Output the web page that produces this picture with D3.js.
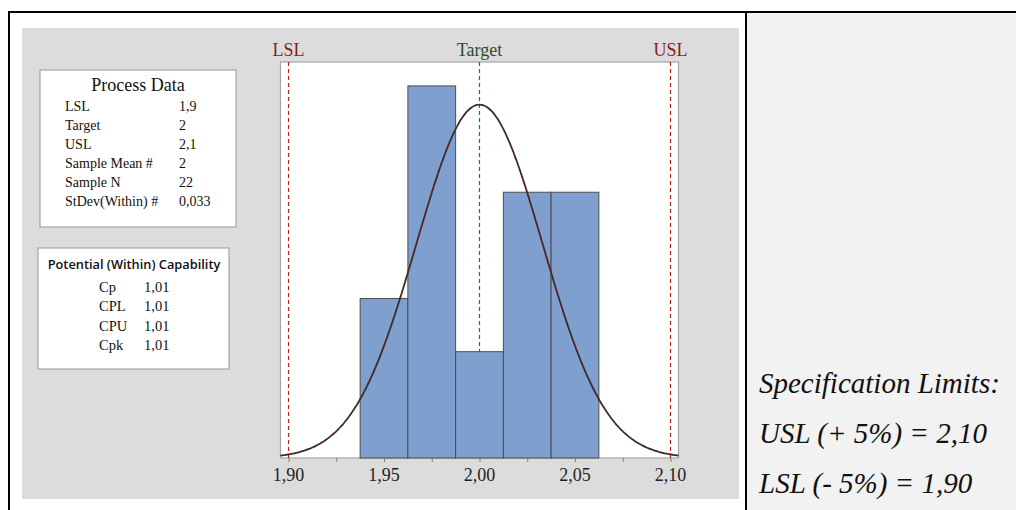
<!DOCTYPE html>
<html>
<head>
<meta charset="utf-8">
<script src="https://cdn.jsdelivr.net/npm/d3@7"></script>
<style>
    body { margin: 0; background: #fff; }
    svg text { font-family: "Liberation Serif", "Times New Roman", serif; }
</style>
</head>
<body>
<div id="chart"></div>
<script>
// histogram data
var binStarts = [1.9375, 1.9625, 1.9875, 2.0125, 2.0375];
var binEnds = [1.9625, 1.9875, 2.0125, 2.0375, 2.0625];
var counts = [3, 7, 2, 5, 5];
var xTicks = [1.90, 1.95, 2.00, 2.05, 2.10];
var xMinorTicks = [1.925, 1.975, 2.025, 2.075];

// spec limits and fit
var lsl = 1.9, target = 2, usl = 2.1;
var sampleMean = 2, sampleSd = 0.033, sampleN = 22, binWidth = 0.025;

var processLabels = ['LSL', 'Target', 'USL', 'Sample Mean #', 'Sample N', 'StDev(Within) #'];
var processValues = ['1,9', '2', '2,1', '2', '22', '0,033'];
var capLabels = ['Cp', 'CPL', 'CPU', 'Cpk'];
var capValues = ['1,01', '1,01', '1,01', '1,01'];
var noteLines = ['Specification Limits:', 'USL (+ 5%) = 2,10', 'LSL (- 5%) = 1,90'];

var fmt = function(v) { return d3.format('.2f')(v).replace('.', ','); };

var svg = d3.select('#chart').append('svg')
    .attr('width', 1016)
    .attr('height', 510);

// table cells
svg.append('rect').attr('x', 746).attr('y', 12).attr('width', 270).attr('height', 498).attr('fill', '#f2f2f2');
svg.append('rect').attr('x', 22).attr('y', 28).attr('width', 717).attr('height', 471).attr('fill', '#dcdcdc');
svg.append('line').attr('x1', 8).attr('x2', 1016).attr('y1', 12).attr('y2', 12).attr('stroke', '#000').attr('stroke-width', 2);
svg.append('line').attr('x1', 9).attr('x2', 9).attr('y1', 11).attr('y2', 510).attr('stroke', '#000').attr('stroke-width', 2);
svg.append('line').attr('x1', 746).attr('x2', 746).attr('y1', 11).attr('y2', 510).attr('stroke', '#000').attr('stroke-width', 2);

var plot = { left: 280.5, right: 678.5, top: 62, bottom: 458 };

var x = d3.scaleLinear().domain([1.8958, 2.1042]).range([plot.left, plot.right]);
var y = d3.scaleLinear().domain([0, 7.45]).range([plot.bottom, plot.top]);

svg.append('rect')
    .attr('x', plot.left).attr('y', plot.top)
    .attr('width', plot.right - plot.left).attr('height', plot.bottom - plot.top)
    .attr('fill', '#fff').attr('stroke', '#a6a6a6').attr('stroke-width', 1.2);

// target line (behind bars)
svg.append('line')
    .attr('x1', x(target)).attr('x2', x(target))
    .attr('y1', plot.top).attr('y2', plot.bottom)
    .attr('stroke', '#2e7040').attr('stroke-width', 1.2).attr('stroke-dasharray', '4,3');

svg.selectAll('rect.bar')
    .data(counts)
    .enter()
    .append('rect')
    .attr('class', 'bar')
    .attr('x', function(d, i) { return x(binStarts[i]); })
    .attr('width', function(d, i) { return x(binEnds[i]) - x(binStarts[i]); })
    .attr('y', function(d) { return y(d); })
    .attr('height', function(d) { return y(0) - y(d); })
    .attr('fill', '#7f9fcf')
    .attr('stroke', '#4d4d4d')
    .attr('stroke-width', 1);

// spec lines
svg.selectAll('line.spec')
    .data([lsl, usl])
    .enter()
    .append('line')
    .attr('class', 'spec')
    .attr('x1', function(d) { return x(d); }).attr('x2', function(d) { return x(d); })
    .attr('y1', plot.top).attr('y2', plot.bottom)
    .attr('stroke', '#b22222').attr('stroke-width', 1.2).attr('stroke-dasharray', '4,3');

// fitted normal curve
var pts = d3.range(0, 201).map(function(i) {
    var v = x.domain()[0] + (x.domain()[1] - x.domain()[0]) * i / 200;
    var z = (v - sampleMean) / sampleSd;
    return [v, sampleN * binWidth * Math.exp(-0.5 * z * z) / (sampleSd * Math.sqrt(2 * Math.PI))];
});
var line = d3.line()
    .x(function(d) { return x(d[0]); })
    .y(function(d) { return y(d[1]); })
    .curve(d3.curveBasis);
svg.append('path').attr('d', line(pts)).attr('fill', 'none').attr('stroke', '#333').attr('stroke-width', 1.8);
svg.append('path').attr('d', line(pts)).attr('fill', 'none').attr('stroke', '#a00000').attr('stroke-width', 1).attr('stroke-dasharray', '2,5');

// x axis
var axis = svg.append('g')
    .attr('transform', 'translate(0,' + plot.bottom + ')');
axis.call(d3.axisBottom(x).tickValues(xTicks.concat(xMinorTicks)).tickSize(4).tickFormat(''));
axis.select('.domain').remove();
axis.selectAll('line').attr('stroke', '#808080');
axis.selectAll('text.tl')
    .data(xTicks)
    .enter()
    .append('text')
    .attr('class', 'tl')
    .attr('x', function(d) { return x(d); })
    .attr('y', 23)
    .attr('text-anchor', 'middle')
    .attr('font-size', 18)
    .attr('fill', '#222')
    .text(fmt);

// limit labels
var limLabels = [
    { v: lsl, t: 'LSL', c: '#8b1a1a' },
    { v: target, t: 'Target', c: '#2a4d32' },
    { v: usl, t: 'USL', c: '#8b1a1a' }
];
svg.selectAll('text.lim')
    .data(limLabels)
    .enter()
    .append('text')
    .attr('class', 'lim')
    .attr('x', function(d) { return x(d.v); })
    .attr('y', 56)
    .attr('text-anchor', 'middle')
    .attr('font-size', 18)
    .attr('fill', function(d) { return d.c; })
    .text(function(d) { return d.t; });

// Process Data box
var pd = svg.append('g');
pd.append('rect').attr('x', 40).attr('y', 70).attr('width', 196).attr('height', 157)
    .attr('fill', '#fff').attr('stroke', '#a6a6a6').attr('stroke-width', 1.2);
pd.append('text').attr('x', 138).attr('y', 91).attr('text-anchor', 'middle')
    .attr('font-size', 18).attr('fill', '#111').text('Process Data');
processLabels.forEach(function(lab, i) {
    pd.append('text').attr('x', 65).attr('y', 111 + i * 19).attr('font-size', 14).attr('fill', '#111').text(lab);
    pd.append('text').attr('x', 179).attr('y', 111 + i * 19).attr('font-size', 14).attr('fill', '#111').text(processValues[i]);
});

// Capability box
var cb = svg.append('g');
cb.append('rect').attr('x', 38).attr('y', 248).attr('width', 191).attr('height', 121)
    .attr('fill', '#fff').attr('stroke', '#a6a6a6').attr('stroke-width', 1.2);
cb.append('text').attr('x', 134).attr('y', 269).attr('text-anchor', 'middle')
    .attr('font-size', 12.8).attr('font-weight', 600).attr('fill', '#111')
    .style('font-family', '"Open Sans", "Noto Sans", sans-serif')
    .text('Potential (Within) Capability');
capLabels.forEach(function(lab, i) {
    cb.append('text').attr('x', 99).attr('y', 292 + i * 19.3).attr('font-size', 14.5).attr('fill', '#111').text(lab);
    cb.append('text').attr('x', 144).attr('y', 292 + i * 19.3).attr('font-size', 14.5).attr('fill', '#111').text(capValues[i]);
});

// note on the right
svg.selectAll('text.note')
    .data(noteLines)
    .enter()
    .append('text')
    .attr('class', 'note')
    .attr('x', 759)
    .attr('y', function(d, i) { return 393 + i * 50; })
    .attr('font-size', 29)
    .attr('font-style', 'italic')
    .attr('fill', '#111')
    .text(function(d) { return d; });
</script>
</body>
</html>
